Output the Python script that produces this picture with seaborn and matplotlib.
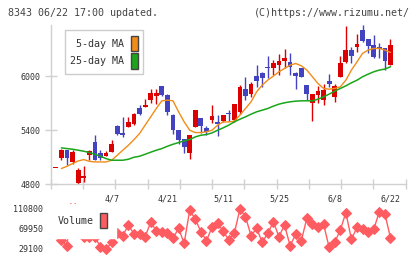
import numpy as np
import pandas as pd
import matplotlib
matplotlib.use("Agg")
import matplotlib.pyplot as plt
import seaborn as sns
from matplotlib.patches import Patch

# ---------------- data ----------------
opens = [4985, 5093, 5178, 5048, 4815, 4870, 5122, 5267, 5148, 5118,
         5159, 5444, 5370, 5437, 5474, 5644, 5659, 5733, 5778, 5893,
         5789, 5567, 5400, 5307, 5148, 5437, 5537, 5426, 5511, 5493,
         5500, 5596, 5511, 5604, 5852, 5800, 6000, 6037, 6104, 6093,
         6122, 6167, 6159, 6037, 6085, 5900, 5704, 5789, 5733, 5944,
         5770, 5993, 6159, 6289, 6326, 6511, 6411, 6344, 6318, 6307,
         6122]
highs = [4985, 5196, 5178, 5185, 4985, 5004, 5185, 5345, 5185, 5167,
         5296, 5456, 5548, 5548, 5596, 5678, 5744, 5855, 5855, 5893,
         5807, 5585, 5400, 5307, 5352, 5622, 5537, 5448, 5678, 5567,
         5567, 5622, 5689, 5900, 5993, 5937, 6122, 6048, 6222, 6178,
         6244, 6300, 6259, 6048, 6085, 5900, 5807, 5889, 5918, 6018,
         5918, 6222, 6556, 6326, 6467, 6567, 6411, 6456, 6363, 6307,
         6411]
lows = [4985, 5074, 5011, 5030, 4789, 4826, 5067, 5067, 5067, 5111,
        5159, 5345, 5326, 5437, 5463, 5574, 5659, 5707, 5696, 5780,
        5567, 5363, 5252, 5152, 5078, 5437, 5370, 5344, 5482, 5340,
        5493, 5500, 5493, 5585, 5733, 5770, 5881, 5881, 5974, 6011,
        6011, 6085, 6011, 5852, 5985, 5733, 5500, 5707, 5678, 5881,
        5715, 5993, 6141, 6141, 6270, 6381, 6252, 6196, 6196, 6067,
        6122]
closes = [4985, 5178, 5093, 5159, 4956, 4893, 5167, 5067, 5096, 5148,
          5244, 5355, 5352, 5493, 5585, 5585, 5685, 5818, 5818, 5789,
          5604, 5400, 5289, 5215, 5344, 5622, 5444, 5382, 5559, 5474,
          5567, 5578, 5689, 5881, 5778, 5918, 5944, 5981, 6089, 6148,
          6167, 6196, 6104, 6000, 5992, 5800, 5800, 5833, 5844, 5911,
          5889, 6141, 6289, 6222, 6356, 6393, 6337, 6215, 6296, 6170,
          6344]
ma5 = [np.nan, 4975, 5000, 5030, 5059, 5074, 5055, 5048, 5048, 5048,
       5067, 5122, 5178, 5233, 5295, 5363, 5456, 5548, 5641, 5726,
       5733, 5726, 5604, 5493, 5400, 5374, 5374, 5382, 5400, 5456,
       5492, 5492, 5500, 5567, 5641, 5715, 5826, 5900, 5956, 6000,
       6048, 6085, 6122, 6140, 6115, 6067, 5993, 5918, 5863, 5855,
       5863, 5881, 5955, 6067, 6159, 6252, 6289, 6307, 6307, 6289,
       6263]
ma25 = [np.nan, 5204, 5196, 5189, 5178, 5167, 5152, 5133, 5111, 5085,
        5067, 5067, 5067, 5078, 5100, 5111, 5133, 5156, 5178, 5196,
        5222, 5244, 5263, 5281, 5296, 5326, 5344, 5352, 5370, 5400,
        5426, 5456, 5493, 5522, 5548, 5578, 5604, 5622, 5641, 5667,
        5689, 5704, 5715, 5722, 5726, 5726, 5726, 5744, 5770, 5800,
        5833, 5863, 5892, 5926, 5955, 5993, 6022, 6048, 6067, 6078,
        6104]
volume = [np.nan, 46050, 34400, 160000, 80000, 52000, 53000, 53000, 31100, 27060,
          41360, 59740, 54840, 76690, 58310, 58310, 52790, 82200, 65050, 63000,
          60960, 49530, 69950, 39310, 107330, 88330, 63000, 44620, 71990, 80160,
          64430, 46050, 59740, 109370, 93640, 54840, 69950, 41360, 59740, 83430,
          52790, 76690, 34410, 57700, 44010, 90380, 78120, 71990, 78120, 31140,
          41360, 66480, 101810, 47480, 71990, 68520, 61780, 67900, 103850, 99160,
          50750]
date_ticks = [10, 20, 30, 40, 50, 60]
date_labels = ["4/7", "4/21", "5/11", "5/25", "6/8", "6/22"]
price_ticks = [4800, 5400, 6000]
vol_ticks = [29100, 69950, 110800]

df = pd.DataFrame({"idx": np.arange(len(opens)), "open": opens, "high": highs,
                   "low": lows, "close": closes, "ma5": ma5, "ma25": ma25,
                   "volume": volume})

# ---------------- styling ----------------
sns.set_theme(style="white")
plt.rcParams['font.family'] = ['DejaVu Sans Mono', 'DejaVu Sans']

RED = "#dd0000"
BLUE = "#4343bf"
ORANGE = "#f28c18"
GREEN = "#1aa51a"
VOLC = "#ff5c62"
GRID = "#d0d0d0"
TXT = "#333333"

W, H = 420, 259
fig = plt.figure(figsize=(W / 100, H / 100), dpi=100)
fig.patch.set_facecolor("white")


def rect(x0, y0, x1, y1):
    return [x0 / W, 1 - y1 / H, (x1 - x0) / W, (y1 - y0) / H]


XL = (-0.93, 62.73)
axv = fig.add_axes(rect(50.7, 203, 405.7, 254))
ax = fig.add_axes(rect(50.7, 25, 405.7, 184.3))

# candles
up = df["close"] >= df["open"]
cols = np.where(up, RED, BLUE)
ax.vlines(df["idx"], df["low"], df["high"], colors=cols, lw=1, zorder=2)
body_lo = np.minimum(df["open"], df["close"])
body_h = np.maximum(np.abs(df["close"] - df["open"]), 11)
ax.bar(df["idx"], body_h, bottom=body_lo, width=0.86, color=cols, lw=0, zorder=3)

sns.lineplot(data=df, x="idx", y="ma5", ax=ax, color=ORANGE, lw=1, zorder=4)
sns.lineplot(data=df, x="idx", y="ma25", ax=ax, color=GREEN, lw=1.1, zorder=4)

ax.set_xlim(*XL)
ax.set_ylim(4800, 6567)
ax.set_xlabel("")
ax.set_ylabel("")
ax.patch.set_alpha(0)
for s in ["top", "right"]:
    ax.spines[s].set_visible(False)
for s in ["left", "bottom"]:
    ax.spines[s].set_color(GRID)
    ax.spines[s].set_linewidth(1)
ax.set_yticks(price_ticks)
ax.set_yticklabels([str(v) for v in price_ticks])
ax.set_xticks(date_ticks)
ax.set_xticklabels(date_labels)
ax.set_xticks(np.linspace(XL[0], XL[1], 12), minor=True)
ax.tick_params(axis="y", which="major", direction="inout", length=8, width=1,
               color=GRID, labelsize=6, labelcolor=TXT, pad=3.5, left=True)
ax.tick_params(axis="x", which="major", length=0, labelsize=6, labelcolor=TXT,
               pad=7.5)
ax.tick_params(axis="x", which="minor", direction="inout", length=7, width=1,
               color=GRID, bottom=True)

leg = ax.legend(handles=[Patch(facecolor=ORANGE, edgecolor="#444444", lw=1, label="5-day MA"),
                         Patch(facecolor=GREEN, edgecolor="#444444", lw=1, label="25-day MA")],
                loc="upper left", bbox_to_anchor=(65 / W, 1 - 30 / H),
                bbox_transform=fig.transFigure, markerfirst=False, frameon=True,
                fancybox=False, edgecolor="#cccccc", framealpha=1, fontsize=7.2,
                handlelength=0.7, handleheight=2.05, handletextpad=0.6,
                labelspacing=0.15, borderpad=0.55, borderaxespad=0)
leg.get_frame().set_linewidth(1)
for t in leg.get_texts():
    t.set_color(TXT)

# volume
sns.lineplot(data=df, x="idx", y="volume", ax=axv, color=VOLC, lw=1,
             marker="D", markersize=5, markeredgecolor=VOLC, zorder=3)
axv.set_xlim(*XL)
axv.set_ylim(17458, 121625)
axv.set_xlabel("")
axv.set_ylabel("")
axv.set_xticks([])
axv.set_yticks(vol_ticks)
axv.set_yticklabels([str(v) for v in vol_ticks])
axv.tick_params(axis="y", length=0, labelsize=6, labelcolor=TXT, pad=5.5)
for s in axv.spines.values():
    s.set_visible(False)
axv.patch.set_alpha(0)

vleg = axv.legend(handles=[Patch(facecolor=VOLC, edgecolor="#444444", lw=1, label="Volume")],
                  loc="upper left", bbox_to_anchor=(49 / W, 1 - 203.5 / H),
                  bbox_transform=fig.transFigure, markerfirst=False, frameon=True,
                  fancybox=False, edgecolor="white", facecolor="white", framealpha=1,
                  fontsize=7.2, handlelength=0.7, handleheight=2.05, handletextpad=0.6,
                  borderpad=0.92, borderaxespad=0)
for t in vleg.get_texts():
    t.set_color(TXT)

fig.text(8 / W, 1 - 16.5 / H, "8343 06/22 17:00 updated.", ha="left", va="baseline",
         fontsize=7.2, color="#444444")
fig.text(410 / W, 1 - 16.5 / H, "(C)https://www.rizumu.net/", ha="right", va="baseline",
         fontsize=7.2, color="#444444")

fig.savefig("out.png", dpi=100, facecolor="white")
